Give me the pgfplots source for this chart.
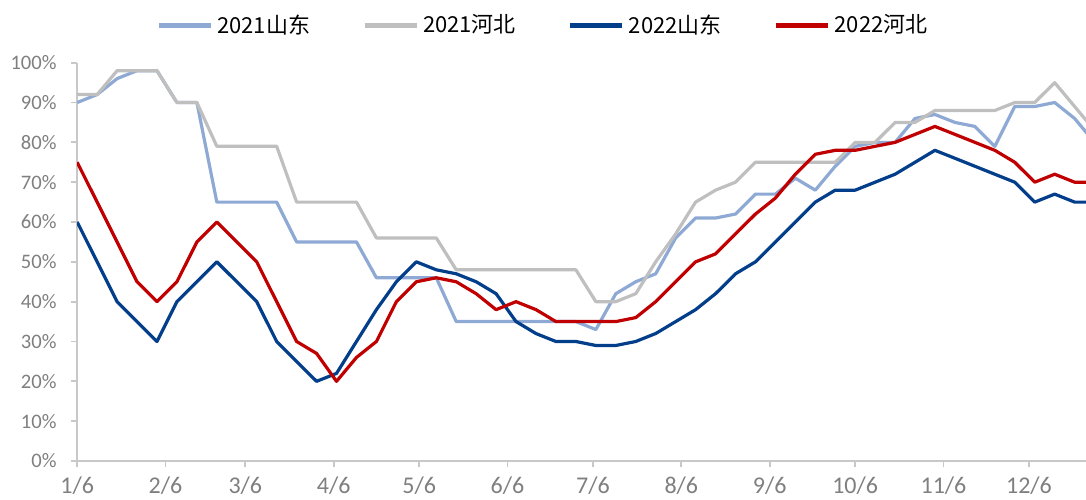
\documentclass[border=0pt]{standalone}
\usepackage{pgfplots}
\pgfplotsset{compat=1.18}
\usepackage{fontspec}
\setmainfont{Carlito}
\newfontfamily\cjk{Noto Sans CJK SC}
\definecolor{cS21}{HTML}{8EA9D3}
\definecolor{cH21}{HTML}{BFBFBF}
\definecolor{cS22}{HTML}{023E8A}
\definecolor{cH22}{HTML}{C00000}
\definecolor{axgray}{HTML}{C8C8C8}
\definecolor{lblgray}{HTML}{7F7F7F}
\begin{document}
\begin{tikzpicture}
\useasboundingbox (0,0) rectangle (543bp,250bp);
\begin{axis}[
  at={(38.6bp,19.5bp)}, anchor=south west,
  scale only axis, width=504.4bp, height=199.15bp,
  xmin=0, xmax=354, ymin=0, ymax=100,
  axis x line*=bottom, axis y line*=left,
  axis line style={draw=axgray, line width=0.9bp},
  tick style={draw=axgray, line width=0.9bp},
  tick align=outside, major tick length=3bp,
  xtick={0,31,59,90,120,151,181,212,243,273,304,334},
  xticklabels={1/6,2/6,3/6,4/6,5/6,6/6,7/6,8/6,9/6,10/6,11/6,12/6},
  ytick={0,10,...,100},
  yticklabels={0\%,10\%,20\%,30\%,40\%,50\%,60\%,70\%,80\%,90\%,100\%},
  yticklabel style={font=\fontsize{10.3bp}{12bp}\selectfont, text=lblgray, xshift=-3.8bp},
  xticklabel style={font=\fontsize{12bp}{14bp}\selectfont, text=lblgray, yshift=-1.6bp},
  legend style={at={(0.4627,1.094)}, anchor=center, draw=none, fill=none,
    legend columns=4, font=\cjk\fontsize{11bp}{13bp}\selectfont,
    /tikz/every even column/.append style={column sep=24bp}},
  legend image code/.code={\draw[#1, line width=2.5bp] (0bp,0bp) -- (26bp,0bp);},
  every axis plot/.append style={line width=1.6bp, mark=none, line join=round},
]
\addplot[cS21] coordinates {
(0,90)(7,92)(14,96)(21,98)(28,98)(35,90)(42,90)(49,65)(56,65)(63,65)(70,65)(77,55)(84,55)(91,55)(98,55)(105,46)(112,46)(119,46)(126,46)(133,35)(140,35)(147,35)(154,35)(161,35)(168,35)(175,35)(182,33)(189,42)(196,45)(203,47)(210,56)(217,61)(224,61)(231,62)(238,67)(245,67)(252,71)(259,68)(266,74)(273,79)(280,80)(287,80)(294,86)(301,87)(308,85)(315,84)(322,79)(329,89)(336,89)(343,90)(350,86)(357,80)};
\addlegendentry{2021山东}
\addplot[cH21] coordinates {
(0,92)(7,92)(14,98)(21,98)(28,98)(35,90)(42,90)(49,79)(56,79)(63,79)(70,79)(77,65)(84,65)(91,65)(98,65)(105,56)(112,56)(119,56)(126,56)(133,48)(140,48)(147,48)(154,48)(161,48)(168,48)(175,48)(182,40)(189,40)(196,42)(203,50)(210,57)(217,65)(224,68)(231,70)(238,75)(245,75)(252,75)(259,75)(266,75)(273,80)(280,80)(287,85)(294,85)(301,88)(308,88)(315,88)(322,88)(329,90)(336,90)(343,95)(350,89)(357,83)};
\addlegendentry{2021河北}
\addplot[cS22] coordinates {
(0,60)(7,50)(14,40)(21,35)(28,30)(35,40)(42,45)(49,50)(56,45)(63,40)(70,30)(77,25)(84,20)(91,22)(98,30)(105,38)(112,45)(119,50)(126,48)(133,47)(140,45)(147,42)(154,35)(161,32)(168,30)(175,30)(182,29)(189,29)(196,30)(203,32)(210,35)(217,38)(224,42)(231,47)(238,50)(245,55)(252,60)(259,65)(266,68)(273,68)(280,70)(287,72)(294,75)(301,78)(308,76)(315,74)(322,72)(329,70)(336,65)(343,67)(350,65)(357,65)};
\addlegendentry{2022山东}
\addplot[cH22] coordinates {
(0,75)(7,65)(14,55)(21,45)(28,40)(35,45)(42,55)(49,60)(56,55)(63,50)(70,40)(77,30)(84,27)(91,20)(98,26)(105,30)(112,40)(119,45)(126,46)(133,45)(140,42)(147,38)(154,40)(161,38)(168,35)(175,35)(182,35)(189,35)(196,36)(203,40)(210,45)(217,50)(224,52)(231,57)(238,62)(245,66)(252,72)(259,77)(266,78)(273,78)(280,79)(287,80)(294,82)(301,84)(308,82)(315,80)(322,78)(329,75)(336,70)(343,72)(350,70)(357,70)};
\addlegendentry{2022河北}
\end{axis}
\end{tikzpicture}
\end{document}
